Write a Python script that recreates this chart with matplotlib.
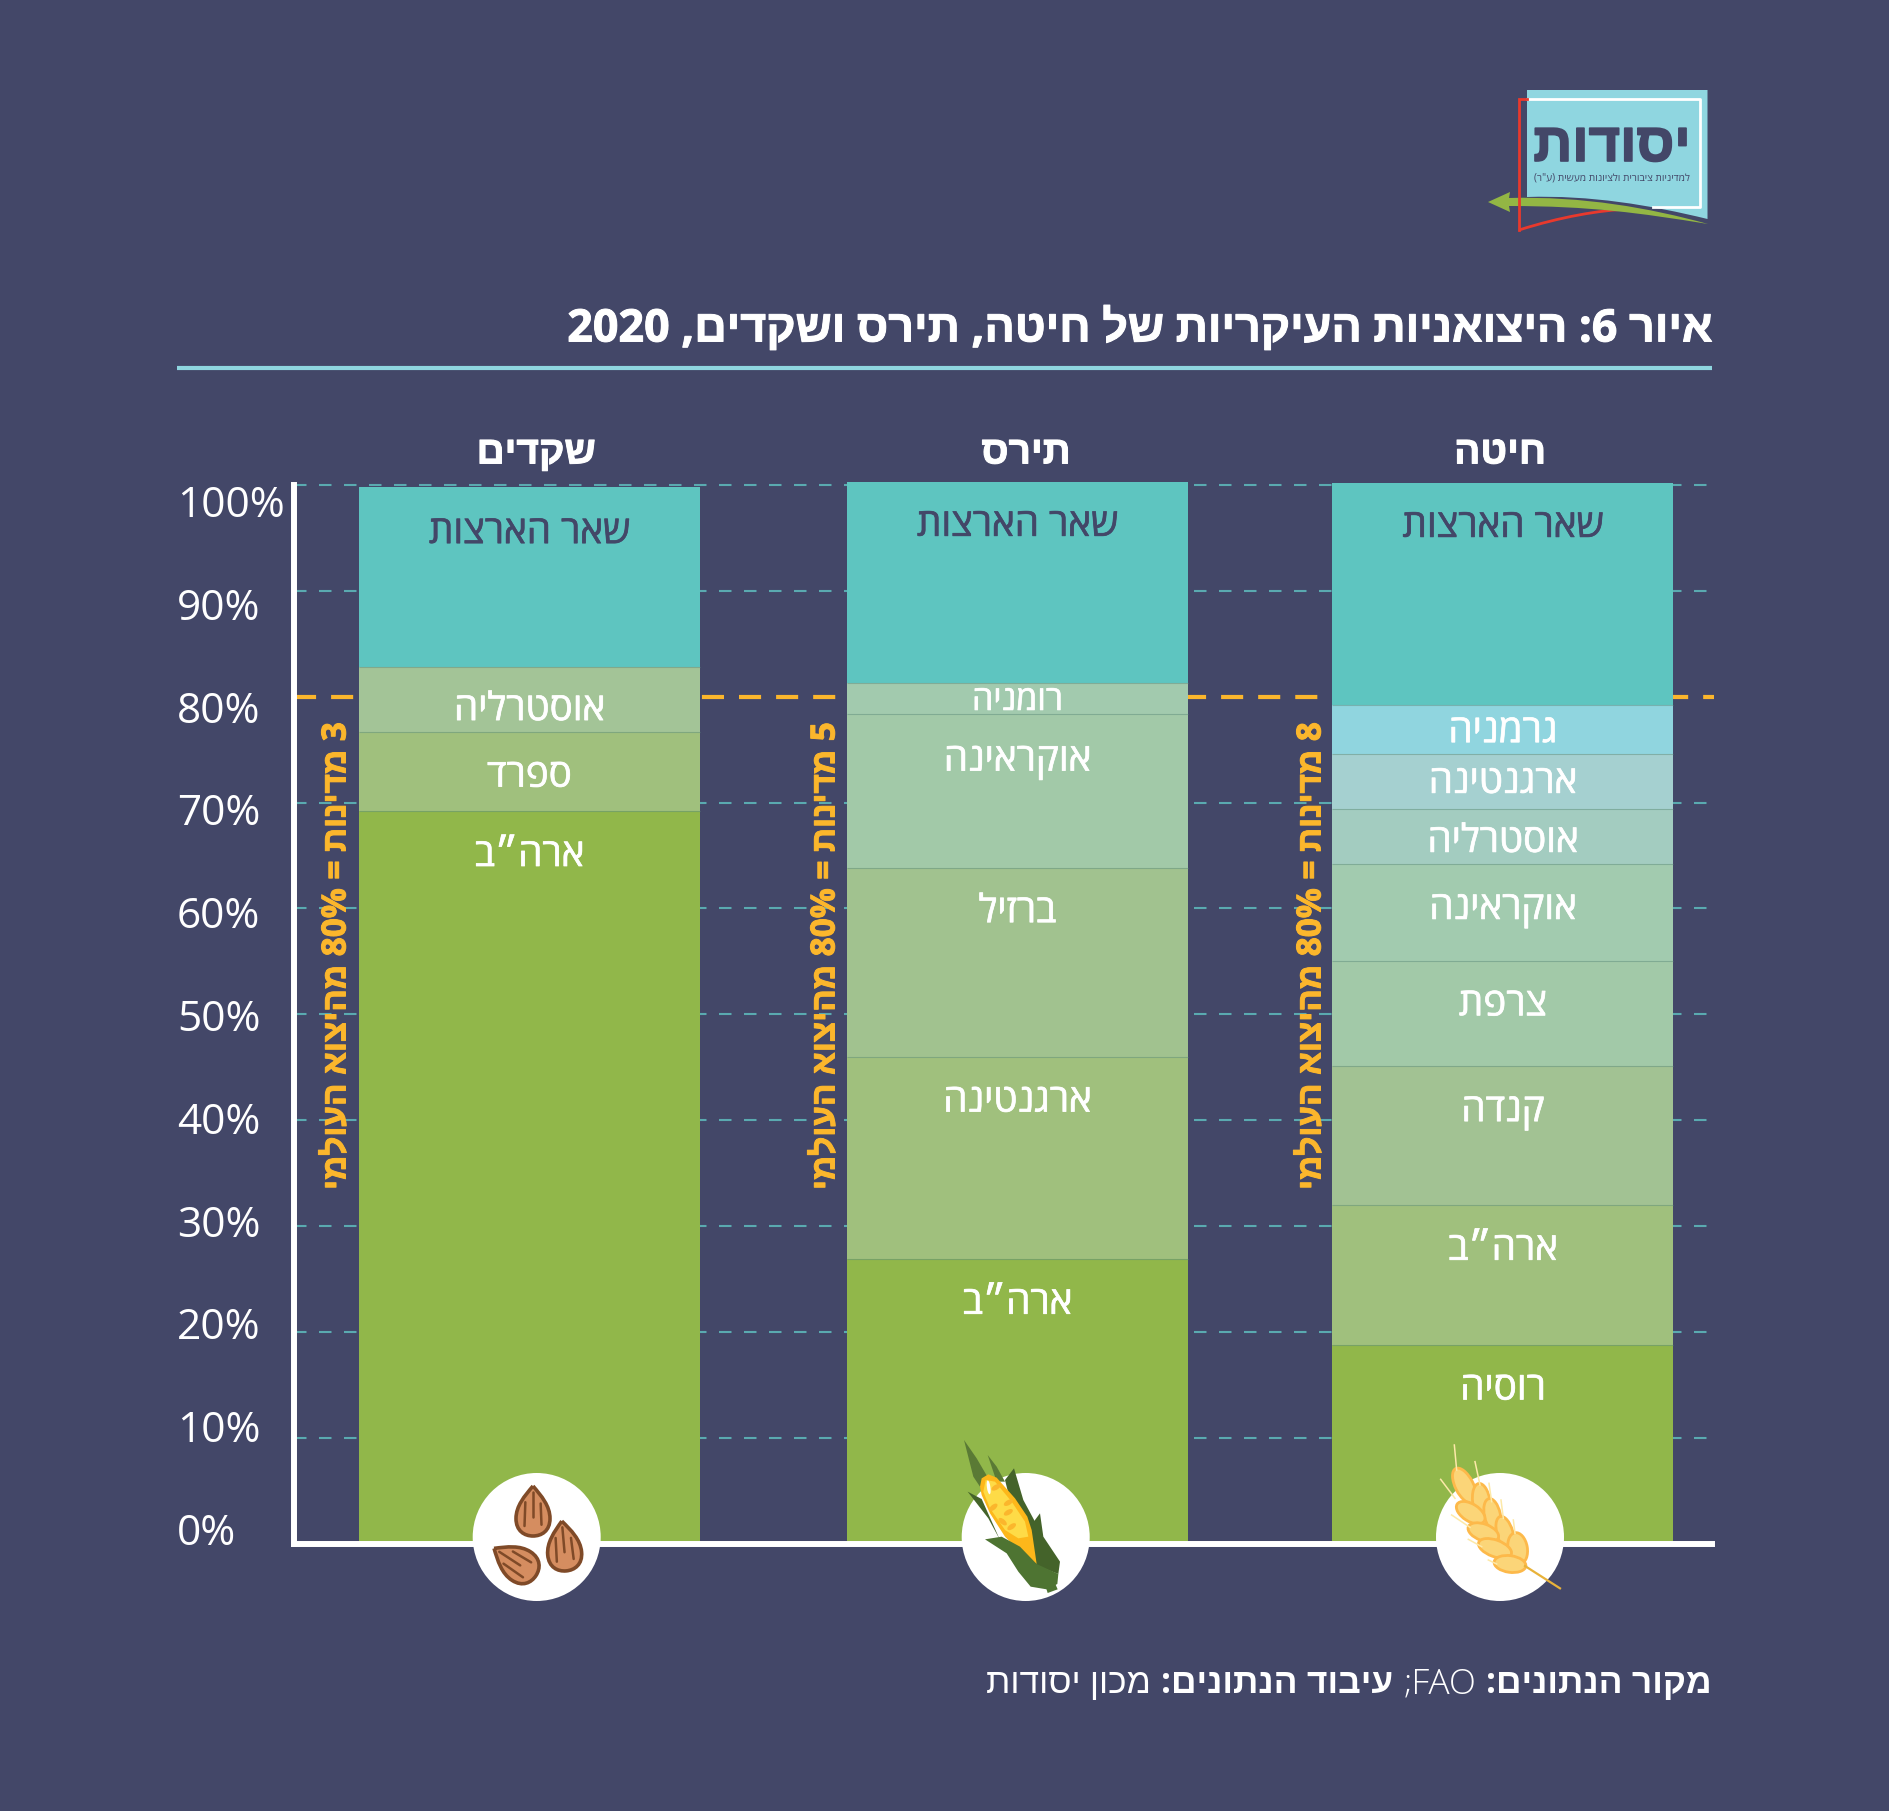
import re
import numpy as np
import matplotlib
matplotlib.use('Agg')
import matplotlib.pyplot as plt
import matplotlib.patheffects as pe
from matplotlib.patches import Circle, Ellipse, Polygon, PathPatch
from matplotlib.path import Path

# share of world exports, bottom segment first
crops = ['שקדים', 'תירס', 'חיטה']
almond_countries = ['ארה״ב', 'ספרד', 'אוסטרליה', 'שאר הארצות']
almond_values = [69.2, 7.5, 6.1, 17.0]
corn_countries = ['ארה״ב', 'ארגנטינה', 'ברזיל', 'אוקראינה', 'רומניה', 'שאר הארצות']
corn_values = [26.9, 19.1, 17.8, 14.6, 2.9, 19.0]
wheat_countries = ['רוסיה', 'ארה״ב', 'קנדה', 'צרפת', 'אוקראינה', 'אוסטרליה', 'ארגנטינה', 'גרמניה', 'שאר הארצות']
wheat_values = [18.8, 13.2, 13.1, 9.9, 9.2, 5.2, 5.2, 4.6, 21.0]
tick_labels = ['100%', '90%', '80%', '70%', '60%', '50%', '40%', '30%', '20%', '10%', '0%']
grid_levels = [10, 20, 30, 40, 50, 60, 70, 90, 100]
threshold = 80
notes = ['3 מדינות = 80% מהיצוא העולמי', '5 מדינות = 80% מהיצוא העולמי', '8 מדינות = 80% מהיצוא העולמי']

BG = '#434768'
TEAL = '#5ec5c0'
ORANGE = '#fbb62c'
HEB = ['Open Sans', 'Liberation Sans', 'DejaVu Sans']
plt.rcParams['font.family'] = HEB

almond_colors = ['#91b74a', '#a0c07d', '#a3c497', TEAL]
corn_colors = ['#91b74a', '#a0c07d', '#a1c28f', '#a2c9a8', '#a2caae', TEAL]
wheat_colors = ['#91b74a', '#a0c07d', '#a2c293', '#a2c9a8', '#a2cbaf', '#a3ccc0', '#a5d0d0', '#90d5df', TEAL]


def heb(s):
    # matplotlib has no bidi: flip to visual order, keep numbers and latin as they are
    s = s[::-1]
    s = re.sub(r'[A-Za-z0-9%]+', lambda m: m.group(0)[::-1], s)
    return s.translate(str.maketrans('()', ')('))


def thick(col, lw=0.7):
    # the original face is heavier than anything installed
    return [pe.withStroke(linewidth=lw, foreground=col)]


fig = plt.figure(figsize=(18.9, 18.11), dpi=100, facecolor=BG)

ax = fig.add_axes([294 / 1890, (1811 - 1543.5) / 1811, (1712 - 294) / 1890, 1058.5 / 1811], zorder=1)
ax.set_facecolor('none')
ax.set_xlim(294, 1712)
ax.set_ylim(0, 100)
ax.set_xticks([])
ax.set_yticks([])
for side in ['top', 'right']:
    ax.spines[side].set_visible(False)
for side in ['left', 'bottom']:
    ax.spines[side].set_color('white')
    ax.spines[side].set_linewidth(4.3)
    ax.spines[side].set_zorder(3)

# pixel space for everything that is not data
over = fig.add_axes([0, 0, 1, 1], zorder=2)
over.set_xlim(0, 1890)
over.set_ylim(1811, 0)
over.axis('off')

ax.hlines(grid_levels, 294, 1714, color='#5aaab0', lw=1.5, linestyles=[(0, (6.0, 6.0))], zorder=1, clip_on=False)
ax.hlines(threshold, 294, 1714, color=ORANGE, lw=3, linestyles=[(0, (5.3, 3.6))], zorder=1, clip_on=False)

bar_x = [529.5, 1017.5, 1503]
bar_w = 341
series = [
    (almond_countries, almond_values, almond_colors, [41, 41, 39, 42]),
    (corn_countries, corn_values, corn_colors, [41, 41, 40, 43, 14, 40]),
    (wheat_countries, wheat_values, wheat_colors, [41, 41, 41, 40, 41, 29, 25, 23, 40]),
]
for x, (names, values, colors, offs) in zip(bar_x, series):
    bottom = 0
    for name, v, c, off in zip(names, values, colors, offs):
        ax.bar(x, v, bar_w, bottom=bottom, color=c, zorder=2, clip_on=False)
        top = bottom + v
        if name != names[-1]:
            ax.hlines(top, x - bar_w / 2, x + bar_w / 2, color='#5f8f80', alpha=0.5, lw=0.8, zorder=2.5)
        col = BG if name == names[-1] else 'white'
        size = 24.5 if name == 'רומניה' else 27.8
        ax.annotate(heb(name), (x, top), xytext=(0, -(off + 4) * 0.72), textcoords='offset points',
                    ha='center', va='center', color=col, fontsize=size, zorder=4, annotation_clip=False,
                    path_effects=thick(col, 0.5))
        bottom = top

# y labels sit a little off the grid lines in the original
for i, lab in enumerate(tick_labels):
    over.text(177, 506 + i * 102.8, lab, color='white', fontsize=30.5, ha='left', va='center',
              family=['Open Sans', 'DejaVu Sans'])

for x, name in zip([536, 1026, 1500], crops):
    over.text(x, 453, heb(name), color='white', fontsize=28, fontweight='bold', ha='center', va='center',
              path_effects=thick('white'))

for x, note in zip([337, 826, 1312], notes):
    over.text(x, 956, heb(note), color=ORANGE, fontsize=24, fontweight='bold', rotation=90,
              ha='center', va='center', path_effects=thick(ORANGE))

over.text(1712, 330, heb('איור 6: היצואניות העיקריות של חיטה, תירס ושקדים, 2020'),
          color='white', fontsize=32.3, fontweight='bold', ha='right', va='center', path_effects=thick('white'))
over.plot([177, 1712], [367.5, 367.5], color='#8fd6e0', lw=3, solid_capstyle='butt')

# source line, mixed weights, laid out from the right
right = 1712
fig.canvas.draw()
renderer = fig.canvas.get_renderer()
for piece, weight in [('מקור הנתונים:', 'bold'), ('FAO;', 'light'), ('עיבוד הנתונים:', 'bold'), ('מכון יסודות', 'light')]:
    t = over.text(right, 1684, heb(piece), color='white', fontsize=25.5, fontweight=weight, ha='right', va='center')
    bb = t.get_window_extent(renderer)
    right = right - bb.width - 10


def to_px(points, ox, oy):
    return [(ox + px / 3, oy + py / 3) for px, py in points]


def seed(cx, cy, length, width, angle):
    # teardrop with its tip pointing along -y before the rotation
    L, W = length / 2, width / 2
    verts = [(0, -L), (W * 0.5, -L * 0.6), (W, -L * 0.2), (W, L * 0.3), (W, L * 0.8), (W * 0.5, L), (0, L),
             (-W * 0.5, L), (-W, L * 0.8), (-W, L * 0.3), (-W, -L * 0.2), (-W * 0.5, -L * 0.6), (0, -L)]
    codes = [Path.MOVETO] + [Path.CURVE4] * 12
    a = np.deg2rad(angle)
    rot = np.array([[np.cos(a), -np.sin(a)], [np.sin(a), np.cos(a)]])
    verts = np.array(verts) @ rot.T + [cx, cy]
    over.add_patch(PathPatch(Path(verts, codes), fc='#d58d60', ec='#7f4a28', lw=2.6))
    # grooves
    for dx, a0, a1 in [(-W * 0.5, -0.35, 0.6), (0, -0.75, 0.25), (W * 0.5, -0.3, 0.55)]:
        seg = np.array([[dx * 0.9, L * a0], [dx, L * a1]]) @ rot.T + [cx, cy]
        over.plot(seg[:, 0], seg[:, 1], color='#7f4a28', lw=1.8, solid_capstyle='round')


# crop icons
for cx in [536.7, 1025.7, 1500]:
    over.add_patch(Circle((cx, 1537), 64, fc='white', ec='none'))

seed(533, 1511, 50, 34, 0)
seed(564, 1546, 50, 34, -5)
seed(515, 1562, 50, 34, -57)

# corn, outline
cx0, cy0 = 940, 1430
for pts, col in [
    ([(72, 30), (110, 85), (145, 145), (130, 185), (100, 140)], '#5a7a35'),
    ([(143, 75), (170, 110), (195, 155), (170, 155)], '#5a7a35'),
    ([(83, 185), (125, 207), (180, 330), (145, 265)], '#44632a'),
    ([(222, 115), (250, 210), (285, 275), (285, 400), (230, 290), (195, 150)], '#44632a'),
    ([(300, 250), (310, 320), (360, 395), (355, 432), (285, 405), (270, 290)], '#44632a'),
    ([(125, 145), (145, 133), (170, 143), (225, 205), (262, 260), (275, 300), (290, 402), (245, 370),
      (195, 320), (150, 250), (125, 195), (120, 170)], '#fdb71a'),
    ([(137, 150), (165, 155), (215, 215), (255, 275), (265, 320), (235, 325), (195, 300), (150, 235), (130, 185)], '#fedb47'),
    ([(135, 328), (185, 320), (240, 350), (290, 402), (355, 432), (352, 462), (320, 478), (272, 470), (235, 425), (200, 370)], '#4e7432'),
    ([(318, 473), (346, 462), (353, 478), (323, 489)], '#4e7432'),
]:
    over.add_patch(Polygon(to_px(pts, cx0, cy0), closed=True, fc=col, ec='none'))
for px, py, ang in [(168, 172, -30), (205, 218, -30), (205, 247, -30), (160, 232, -40), (188, 275, 40), (215, 290, -35)]:
    over.add_patch(Ellipse((cx0 + px / 3, cy0 + py / 3), 10, 5, angle=ang, fc='#fbb62c', ec='none'))
over.add_patch(Ellipse((cx0 + 146 / 3, cy0 + 172 / 3), 3.5, 14, angle=-8, fc='white', ec='none'))

# wheat
wx0, wy0 = 1420, 1440
for a, b in [((103, 15), (110, 90)), ((62, 118), (105, 175)), ((165, 65), (180, 135)), ((207, 130), (215, 185)),
             ((243, 180), (250, 235)), ((95, 225), (150, 262)), ((145, 298), (185, 320)), ((205, 360), (230, 372)),
             ((280, 240), (285, 280))]:
    p = to_px([a, b], wx0, wy0)
    over.plot([p[0][0], p[1][0]], [p[0][1], p[1][1]], color='#fde9a8', lw=1.1)
p = to_px([(315, 378), (420, 445)], wx0, wy0)
over.plot([p[0][0], p[1][0]], [p[0][1], p[1][1]], color='#e8b23a', lw=1.6)
for px, py, length, width, ang in [
    (133, 137, 115, 54, 63), (184, 185, 110, 52, 82), (217, 225, 100, 48, 78), (255, 280, 105, 48, 74), (293, 325, 95, 58, 80),
    (152, 218, 96, 52, 32), (190, 277, 96, 50, 20), (225, 325, 104, 50, 20), (270, 372, 96, 50, 8),
]:
    over.add_patch(Ellipse((wx0 + px / 3, wy0 + py / 3), length / 3, width / 3, angle=ang, fc='#fbd578', ec='#fdb94a', lw=2))

# logo
blue_path = Path([(1527, 90), (1707.5, 90), (1707.5, 219), (1650, 205), (1590, 195), (1527, 197), (1527, 90)],
                 [Path.MOVETO, Path.LINETO, Path.LINETO, Path.CURVE4, Path.CURVE4, Path.CURVE4, Path.CLOSEPOLY])
over.add_patch(PathPatch(blue_path, fc='#8fd6e0', ec='none'))
over.plot([1527, 1700, 1700, 1653], [99, 99, 207, 207], color='white', lw=2)
over.plot([1527, 1519, 1519], [99, 99, 230], color='#e8392d', lw=2, solid_joinstyle='miter')
red_path = Path([(1519, 230), (1560, 217), (1600, 210), (1630, 209)], [Path.MOVETO, Path.CURVE4, Path.CURVE4, Path.CURVE4])
over.add_patch(PathPatch(red_path, fc='none', ec='#e8392d', lw=2))
green_path = Path([(1488, 202), (1510, 192), (1509, 198), (1583, 196), (1650, 208), (1708, 224),
                   (1640, 213), (1590, 206), (1509, 206), (1510, 212), (1488, 202)],
                  [Path.MOVETO, Path.LINETO, Path.LINETO, Path.CURVE4, Path.CURVE4, Path.CURVE4,
                   Path.CURVE4, Path.CURVE4, Path.CURVE4, Path.LINETO, Path.CLOSEPOLY])
over.add_patch(PathPatch(green_path, fc='#93b644', ec='none'))
over.text(1612, 147, heb('יסודות'), color=BG, fontsize=39, fontweight='bold', ha='center', va='center',
          path_effects=thick(BG, 1.2))
over.text(1612, 178, heb('למדיניות ציבורית ולציונות מעשית (ע"ר)'), color=BG, fontsize=7.3, ha='center', va='center')

fig.savefig('out.png', dpi=100, facecolor=BG)
